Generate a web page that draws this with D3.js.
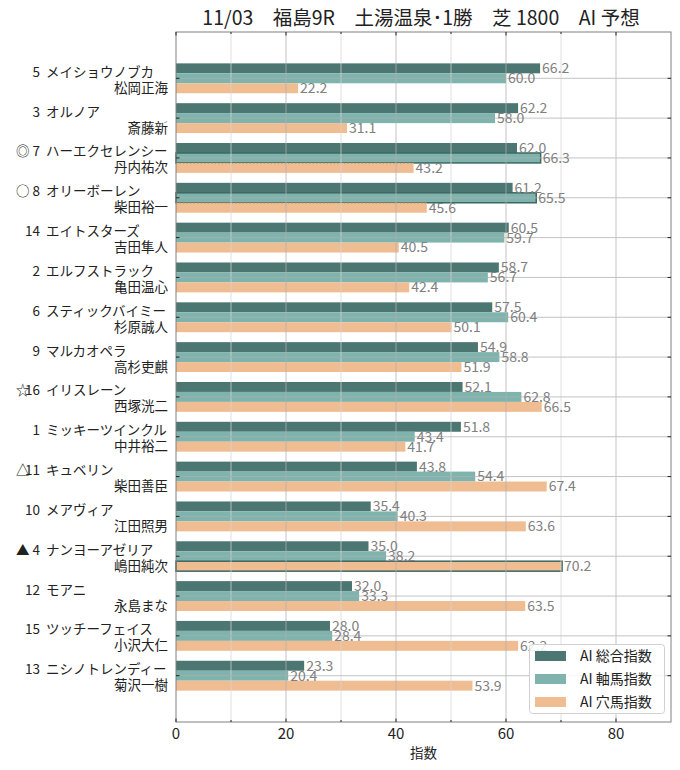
<!DOCTYPE html>
<html><head><meta charset="utf-8">
<script src="https://cdn.jsdelivr.net/npm/d3@7"></script>
<style>
body{margin:0;background:#fff;}
text{font-family:"Noto Sans CJK JP","Noto Sans",sans-serif;}
</style></head>
<body><svg id="c" width="680" height="770"></svg>
<script>
const titleText = "11/03　福島9R　土湯温泉･1勝　芝 1800　AI 予想";
const marks = ["", "", "◎", "○", "", "", "", "", "☆", "", "△", "", "▲", "", "", ""];
const numbers = ["5", "3", "7", "8", "14", "2", "6", "9", "16", "1", "11", "10", "4", "12", "15", "13"];
const horses = ["メイショウノブカ", "オルノア", "ハーエクセレンシー", "オリーボーレン", "エイトスターズ", "エルフストラック", "スティックバイミー", "マルカオペラ", "イリスレーン", "ミッキーツインクル", "キュベリン", "メアヴィア", "ナンヨーアゼリア", "モアニ", "ツッチーフェイス", "ニシノトレンディー"];
const jockeys = ["松岡正海", "斎藤新", "丹内祐次", "柴田裕一", "吉田隼人", "亀田温心", "杉原誠人", "高杉吏麒", "西塚洸二", "中井裕二", "柴田善臣", "江田照男", "嶋田純次", "永島まな", "小沢大仁", "菊沢一樹"];
const sogo = [66.2, 62.2, 62.0, 61.2, 60.5, 58.7, 57.5, 54.9, 52.1, 51.8, 43.8, 35.4, 35.0, 32.0, 28.0, 23.3];
const jiku = [60.0, 58.0, 66.3, 65.5, 59.7, 56.7, 60.4, 58.8, 62.8, 43.4, 54.4, 40.3, 38.2, 33.3, 28.4, 20.4];
const ana  = [22.2, 31.1, 43.2, 45.6, 40.5, 42.4, 50.1, 51.9, 66.5, 41.7, 67.4, 63.6, 70.2, 63.5, 62.2, 53.9];
// which series is outlined for each horse (-1 none, 1 = 軸馬, 2 = 穴馬)
const highlight = [-1, -1, 1, 1, -1, -1, -1, -1, -1, -1, -1, -1, 2, -1, -1, -1];
const seriesNames = ["AI 総合指数", "AI 軸馬指数", "AI 穴馬指数"];
const seriesColors = ["#4b7671", "#7eb4ad", "#f0bd92"];
const xTicks = [0, 20, 40, 60, 80];
const xMinor = [10, 30, 50, 70];
const xLabel = "指数";

const svg = d3.select("#c");
const L = 176, R = 671, T = 32, B = 722;
const x = d3.scaleLinear().domain([0, 90]).range([L, R]);
const y = d3.scaleLinear().domain([-1.1625, 16.1625]).range([T, B]);
const bh = y(0.25) - y(0);
const series = [sogo, jiku, ana];
const offsets = [-0.25, 0, 0.25];

// bars
const g = svg.append("g");
series.forEach((vals, s) => {
  g.selectAll(null).data(vals).enter().append("rect")
    .attr("x", x(0))
    .attr("y", (d, i) => y(i + offsets[s]) - bh / 2)
    .attr("width", d => x(d) - x(0))
    .attr("height", bh)
    .attr("fill", seriesColors[s])
    .attr("stroke", (d, i) => highlight[i] === s ? "#3c6861" : "none")
    .attr("stroke-width", 1.5);
});
// faint dotted edge on orange bars in ◎/○ groups
const dotted = ana.map((v, i) => ({v, i})).filter(o => highlight[o.i] === 1);
g.selectAll(null).data(dotted).enter()
  .append("line")
  .attr("x1", x(0)).attr("x2", d => x(d.v))
  .attr("y1", d => y(d.i + 0.25) - bh / 2 + 0.5)
  .attr("y2", d => y(d.i + 0.25) - bh / 2 + 0.5)
  .attr("stroke", "#d99a6a").attr("stroke-width", 1).attr("stroke-dasharray", "1.5,2");

// grid on top
const grid = svg.append("g").attr("opacity", 0.75);
grid.selectAll(null).data(xMinor).enter().append("line")
  .attr("x1", d => x(d)).attr("x2", d => x(d)).attr("y1", T).attr("y2", B)
  .attr("stroke", "#d6d6d6").attr("stroke-width", 1);
grid.selectAll(null).data(xTicks.slice(1)).enter().append("line")
  .attr("x1", d => x(d)).attr("x2", d => x(d)).attr("y1", T).attr("y2", B)
  .attr("stroke", "#b0b0b0").attr("stroke-width", 1);
grid.selectAll(null).data(numbers).enter().append("line")
  .attr("x1", L).attr("x2", R).attr("y1", (d, i) => y(i)).attr("y2", (d, i) => y(i))
  .attr("stroke", "#b0b0b0").attr("stroke-width", 1);

// value labels
series.forEach((vals, s) => {
  svg.append("g").selectAll(null).data(vals).enter().append("text")
    .attr("x", d => x(d) + 2)
    .attr("y", (d, i) => y(i + offsets[s]))
    .attr("dy", "0.35em")
    .attr("font-size", 14).attr("fill", "#808080")
    .text(d => d.toFixed(1));
});

// frame
svg.append("rect").attr("x", L).attr("y", T).attr("width", R - L).attr("height", B - T)
  .attr("fill", "none").attr("stroke", "#808080").attr("stroke-width", 1);

// ticks (inward)
const tk = svg.append("g").attr("stroke", "#222").attr("stroke-width", 1);
xTicks.concat(xMinor).forEach(v => {
  const len = xTicks.includes(v) ? 3.5 : 2;
  tk.append("line").attr("x1", x(v)).attr("x2", x(v)).attr("y1", B).attr("y2", B - len);
  tk.append("line").attr("x1", x(v)).attr("x2", x(v)).attr("y1", T).attr("y2", T + len);
});
numbers.forEach((d, i) => {
  tk.append("line").attr("x1", L).attr("x2", L + 3.5).attr("y1", y(i)).attr("y2", y(i));
  tk.append("line").attr("x1", R).attr("x2", R - 3.5).attr("y1", y(i)).attr("y2", y(i));
});

// x axis labels
svg.append("g").selectAll(null).data(xTicks).enter().append("text")
  .attr("x", d => x(d)).attr("y", B + 17).attr("text-anchor", "middle")
  .attr("font-size", 15).attr("fill", "#222").text(d => d);
svg.append("text").attr("x", (L + R) / 2).attr("y", B + 36).attr("text-anchor", "middle")
  .attr("font-size", 13.5).attr("fill", "#222").text(xLabel);

// y labels
const yl = svg.append("g").attr("font-size", 13.5).attr("fill", "#222");
numbers.forEach((n, i) => {
  const cy = y(i);
  if (marks[i]) yl.append("text").attr("x", 16).attr("y", cy - 1.5).text(marks[i]);
  yl.append("text").attr("x", 40).attr("y", cy - 1.5).attr("text-anchor", "end").text(n);
  yl.append("text").attr("x", 46).attr("y", cy - 1.5).text(horses[i]);
  yl.append("text").attr("x", 168).attr("y", cy + 14.5).attr("text-anchor", "end").text(jockeys[i]);
});

// title
svg.append("text").attr("x", 421).attr("y", 25).attr("text-anchor", "middle")
  .attr("font-size", 19.5).attr("fill", "#222").text(titleText);

// legend
const lg = svg.append("g");
lg.append("rect").attr("x", 529.5).attr("y", 644.5).attr("width", 135).attr("height", 69)
  .attr("rx", 3).attr("fill", "#fff").attr("fill-opacity", 0.85).attr("stroke", "#d0d0d0");
seriesNames.forEach((nm, s) => {
  const ry = 656 + s * 23;
  lg.append("rect").attr("x", 535).attr("y", ry - 5).attr("width", 31).attr("height", 10).attr("fill", seriesColors[s]);
  lg.append("text").attr("x", 580).attr("y", ry).attr("dy", "0.35em").attr("font-size", 14).attr("fill", "#222").text(nm);
});
</script></body></html>
